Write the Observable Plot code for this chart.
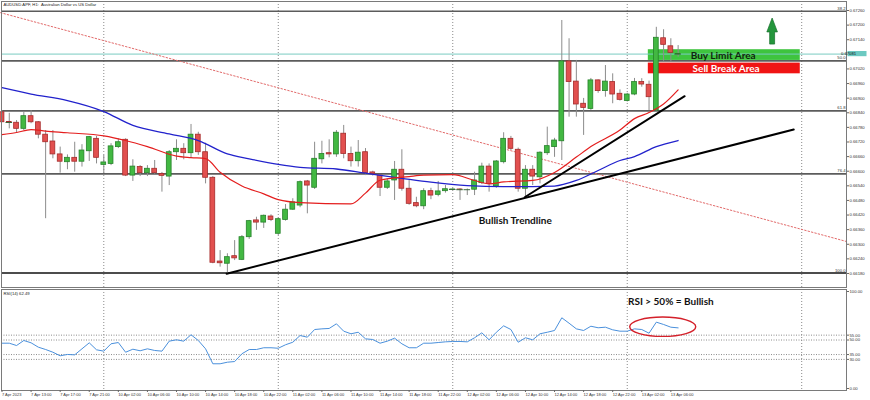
<!DOCTYPE html>
<html><head><meta charset="utf-8">
<script src="https://cdn.jsdelivr.net/npm/d3@7"></script>
<script src="https://cdn.jsdelivr.net/npm/@observablehq/plot@0.6"></script>
<style>
html,body{margin:0;padding:0;background:#fff;overflow:hidden;}
#chart svg{display:block;}
</style></head><body><div id="chart"></div>
<script>
// ---------- DATA ----------
const chartTitle = "AUDUSD.APF, H1:  Australian Dollar vs US Dollar";
const opens = [0.66842,0.66802,0.66799,0.66774,0.66826,0.66801,0.66750,0.66722,0.66669,0.66637,
0.66655,0.66639,0.66682,0.66733,0.66626,0.66630,0.66699,0.66729,0.66582,0.66617,
0.66592,0.66610,0.66589,0.66578,0.66678,0.66692,0.66674,0.66750,0.66678,0.66573,
0.66229,0.66220,0.66251,0.66236,0.66329,0.66398,0.66389,0.66414,0.66343,0.66400,
0.66442,0.66459,0.66558,0.66532,0.66649,0.66674,0.66669,0.66754,0.66671,0.66641,
0.66678,0.66595,0.66582,0.66532,0.66562,0.66606,0.66528,0.66469,0.66456,0.66518,
0.66503,0.66518,0.66524,0.66525,0.66524,0.66524,0.66551,0.66619,0.66537,0.66637,
0.66733,0.66688,0.66528,0.66606,0.66575,0.66674,0.66699,0.66723,0.67051,0.66968,
0.66877,0.66856,0.66973,0.66929,0.66966,0.66918,0.66888,0.66915,0.66966,0.66955,
0.66849,0.67146,0.67113,0.67080];
const closes = [0.66801,0.66800,0.66774,0.66826,0.66801,0.66750,0.66719,0.66669,0.66639,0.66655,
0.66639,0.66685,0.66740,0.66655,0.66636,0.66702,0.66719,0.66582,0.66619,0.66592,
0.66610,0.66592,0.66581,0.66678,0.66692,0.66674,0.66750,0.66678,0.66573,0.66224,
0.66222,0.66247,0.66242,0.66329,0.66395,0.66389,0.66417,0.66400,0.66403,0.66442,
0.66472,0.66555,0.66541,0.66651,0.66671,0.66669,0.66758,0.66671,0.66641,0.66676,
0.66592,0.66589,0.66532,0.66558,0.66606,0.66528,0.66466,0.66456,0.66518,0.66500,
0.66517,0.66526,0.66525,0.66524,0.66524,0.66562,0.66619,0.66548,0.66640,0.66733,
0.66692,0.66528,0.66606,0.66578,0.66676,0.66703,0.66726,0.67051,0.66966,0.66874,
0.66860,0.66973,0.66929,0.66968,0.66915,0.66893,0.66915,0.66966,0.66956,0.66904,
0.67148,0.67119,0.67086,0.67081];
const highs = [0.66849,0.66838,0.66808,0.66842,0.66849,0.66804,0.66767,0.66767,0.66699,0.66667,
0.66719,0.66709,0.66743,0.66743,0.66665,0.66713,0.66733,0.66733,0.66647,0.66623,
0.66623,0.66644,0.66595,0.66685,0.66729,0.66713,0.66792,0.66760,0.66715,0.66578,
0.66274,0.66261,0.66315,0.66336,0.66398,0.66411,0.66420,0.66421,0.66408,0.66463,
0.66487,0.66560,0.66562,0.66719,0.66723,0.66729,0.66767,0.66788,0.66699,0.66726,
0.66693,0.66600,0.66587,0.66569,0.66640,0.66688,0.66562,0.66493,0.66528,0.66530,
0.66558,0.66541,0.66528,0.66528,0.66527,0.66596,0.66633,0.66630,0.66644,0.66758,
0.66743,0.66695,0.66623,0.66623,0.66680,0.66781,0.66735,0.67219,0.67144,0.67055,
0.66899,0.66981,0.66975,0.67034,0.67000,0.66934,0.66920,0.66981,0.66980,0.66970,
0.67191,0.67181,0.67144,0.67116];
const lows = [0.66800,0.66774,0.66755,0.66767,0.66795,0.66733,0.66405,0.66651,0.66592,0.66606,
0.66596,0.66617,0.66640,0.66630,0.66592,0.66623,0.66693,0.66578,0.66558,0.66578,
0.66578,0.66587,0.66514,0.66541,0.66644,0.66647,0.66655,0.66665,0.66548,0.66220,
0.66206,0.66179,0.66233,0.66233,0.66320,0.66357,0.66365,0.66393,0.66336,0.66395,
0.66439,0.66450,0.66425,0.66525,0.66630,0.66655,0.66657,0.66651,0.66617,0.66617,
0.66582,0.66580,0.66496,0.66525,0.66480,0.66518,0.66460,0.66450,0.66442,0.66483,
0.66495,0.66510,0.66521,0.66480,0.66500,0.66500,0.66545,0.66514,0.66530,0.66630,
0.66685,0.66514,0.66493,0.66541,0.66548,0.66665,0.66657,0.66644,0.66822,0.66822,
0.66747,0.66850,0.66920,0.66904,0.66877,0.66888,0.66884,0.66910,0.66945,0.66849,
0.66842,0.67051,0.67048,0.67068];

// moving averages read at sampled bars
const redMaIdx = [0,2,4,6,9,14,17,20,24,26,28,30,33,36,38,41,48,50,52,56,58,62,65,67,69,73,76,79,81,85,87,89,91,93];
const redMaVal = [0.66750,0.66759,0.66771,0.66765,0.66758,0.66745,0.66726,0.66701,0.66662,0.66656,0.66652,0.66596,0.66539,0.66507,0.66483,0.66471,0.66466,0.66510,0.66563,0.66578,0.66584,0.66586,0.66562,0.66548,0.66556,0.66562,0.66595,0.66658,0.66701,0.66769,0.66816,0.66841,0.66876,0.66934];
const blueMaIdx = [0,4,9,14,18,23,27,31,34,38,41,46,50,55,59,64,69,73,76,79,82,85,87,90,93];
const blueMaVal = [0.66943,0.66917,0.66890,0.66845,0.66788,0.66753,0.66726,0.66671,0.66651,0.66628,0.66616,0.66609,0.66592,0.66571,0.66555,0.66541,0.66537,0.66537,0.66539,0.66562,0.66603,0.66644,0.66660,0.66701,0.66726];

const rsiValues = [46.7,46.7,44.3,49.5,47.1,42.6,40.2,37.4,33.7,35.1,
34.7,40.9,47.1,39.9,38.5,46.1,47.4,37.4,40.5,38.9,
40.9,39.2,38.5,48.8,50.2,48.8,55.4,49.5,40.9,25.5,
25.5,27.1,27.8,35.8,40.2,40.2,42.0,42.0,41.5,45.1,
47.7,54.6,52.9,60.8,61.5,61.9,66.7,59.1,56.4,58.0,
51.2,50.5,46.7,48.8,51.9,46.1,42.0,42.0,46.7,46.7,
47.4,48.1,48.5,48.5,48.1,52.3,57.4,50.2,58.0,64.6,
60.8,47.7,52.3,50.2,56.4,58.0,59.8,72.9,67.3,61.5,
59.8,64.2,62.6,63.2,60.5,59.1,59.1,61.5,60.8,57.0,
68.4,66.0,63.2,62.5];

const fibPrices = [0.67257,0.67053,0.66848,0.66589,0.66182];
const fibLabels = ["38.2","50.0","61.8","76.4","100.0"];
const currentPrice = 0.67081;
const priceTicks = [0.67260,0.67200,0.67140,0.67020,0.66960,0.66900,0.66840,0.66780,0.66720,0.66660,0.66600,0.66540,0.66480,0.66420,0.66360,0.66300,0.66240,0.66180];
const daySeparators = [14,38,62,86,110];
const xTicks = [0,4,8,12,16,20,24,28,32,36,40,44,48,52,56,60,64,68,72,76,80,84,88,92];
const xLabels = ["7 Apr 2023","7 Apr 13:00","7 Apr 17:00","7 Apr 21:00","10 Apr 02:00","10 Apr 06:00","10 Apr 10:00","10 Apr 14:00","10 Apr 18:00","10 Apr 22:00","11 Apr 02:00","11 Apr 06:00","11 Apr 10:00","11 Apr 14:00","11 Apr 18:00","11 Apr 22:00","12 Apr 02:00","12 Apr 06:00","12 Apr 10:00","12 Apr 14:00","12 Apr 18:00","12 Apr 22:00","13 Apr 02:00","13 Apr 06:00"];
const rsiTicks = [100,55,50,35,30,0];
const rsiLevels = [55,50,35,30];
const rsiTitle = "RSI(14) 62.49";

// drawn annotations (data coordinates: bar index, price)
const bullTrend = [{i:30.9, p:0.66179},{i:108.9, p:0.66771}];
const steepTrend = [{i:71.9, p:0.66493},{i:93.9, p:0.66908}];
const downChannel = [{i:-0.2, p:0.67251},{i:116.2, p:0.66311}];
const zones = [
  {name:"Buy Limit Area", i1:88.9, i2:109.8, p1:0.67055, p2:0.67099, fill:"#3ec43e", text:"#10240f", ti:99.2, tp:0.67075},
  {name:"Sell Break Area", i1:88.9, i2:109.8, p1:0.67000, p2:0.67044, fill:"#f01414", text:"#ffffff", ti:99.6, tp:0.67020}
];
const trendNote = {label:"Bullish Trendline", i:70.6, p:0.66398};
const upArrow = {i:106.0, head:0.73, shaft:0.34, tip:0.67227, base:0.67170, bottom:0.67120};
const rsiNote = {label:"RSI > 50% = Bullish", i:92.0, v:89.7};
const rsiRing = {i:90.95, v:63.2, di:4.54, dv:10};

// ---------- CHART ----------
const xDomain = [-0.07, 116.16];
const FONT = "'Liberation Sans', Arial, sans-serif";
const candles = opens.map((o, i) => ({i, o, h: highs[i], l: lows[i], c: closes[i]}));
const ups = candles.filter(d => d.c >= d.o);
const downs = candles.filter(d => d.c < d.o);
const dojis = candles.filter(d => Math.abs(d.c - d.o) < 0.00003);
const redMa = redMaIdx.map((i, k) => ({i, p: redMaVal[k]}));
const blueMa = blueMaIdx.map((i, k) => ({i, p: blueMaVal[k]}));

function arrowMark(index, scales) {
  const {x, y} = scales; const a = upArrow;
  const pts = [[a.i, a.tip],[a.i + a.head, a.base],[a.i + a.shaft, a.base],[a.i + a.shaft, a.bottom],
    [a.i - a.shaft, a.bottom],[a.i - a.shaft, a.base],[a.i - a.head, a.base]]
    .map(([u, v]) => `${x(u)},${y(v)}`).join(" ");
  return d3.create("svg:polygon").attr("points", pts).attr("fill", "#24963c")
    .attr("stroke", "#17702b").attr("stroke-width", 0.7).node();
}
function priceTag(index, scales, values, dims) {
  const yy = scales.y(currentPrice);
  const x0 = dims.width - dims.marginRight;
  const g = d3.create("svg:g");
  g.append("rect").attr("x", x0 + 1.5).attr("y", yy - 2.6).attr("width", 19).attr("height", 5.2).attr("fill", "#6cc9c1");
  g.append("text").attr("x", x0 + 2.5).attr("y", yy).attr("dy", "0.35em").attr("font-size", 4.2)
    .attr("font-family", FONT).attr("fill", "#111").text(d3.format(".5f")(currentPrice));
  return g.node();
}
function ringMark(index, scales) {
  const {x, y} = scales; const r = rsiRing;
  const cx = x(r.i), cy = y(r.v);
  return d3.create("svg:ellipse").attr("cx", cx).attr("cy", cy)
    .attr("rx", Math.abs(x(r.i + r.di) - cx)).attr("ry", Math.abs(y(r.v + r.dv) - cy))
    .attr("fill", "none").attr("stroke", "#d4202a").attr("stroke-width", 1.4).node();
}

const pricePlot = Plot.plot({
  width: 870, height: 288,
  marginLeft: 1, marginRight: 24, marginTop: 1, marginBottom: 1,
  x: {domain: xDomain, axis: null},
  y: {domain: [0.661224, 0.67297], axis: null},
  style: {fontFamily: FONT, background: "#fff"},
  marks: [
    Plot.ruleX(daySeparators, {x: d => d, stroke: "#8a8a8a", strokeDasharray: "1,2"}),
    Plot.rect(zones, {x1: "i1", x2: "i2", y1: "p1", y2: "p2", fill: d => d.fill}),
    Plot.ruleY(fibPrices.slice(0, 4), {y: d => d, stroke: "#5c5c5c", strokeWidth: 1.6}),
    Plot.ruleY(fibPrices.slice(4), {y: d => d, stroke: "#111", strokeWidth: 1.6}),
    Plot.text(fibPrices, {frameAnchor: "right", y: d => d, text: (d, k) => fibLabels[k], textAnchor: "end", dx: -1, dy: -2.8, fontSize: 4.2, fill: "#333"}),
    Plot.ruleY([currentPrice], {y: d => d, stroke: "#79cbc2", strokeWidth: 1}),
    Plot.line(downChannel, {x: "i", y: "p", stroke: "#e26a6a", strokeWidth: 1, strokeDasharray: "1.5,2"}),
    Plot.ruleX(candles, {x: "i", y1: "l", y2: "h", stroke: "#8c8c8c", strokeWidth: 1}),
    Plot.rect(ups, {x1: d => d.i - 0.33, x2: d => d.i + 0.33, y1: "o", y2: "c", fill: "#42b842", stroke: "#26822a", strokeWidth: 0.8}),
    Plot.rect(downs, {x1: d => d.i - 0.33, x2: d => d.i + 0.33, y1: "o", y2: "c", fill: "#e2504f", stroke: "#a52b2b", strokeWidth: 0.8}),
    Plot.ruleY(dojis, {y: "c", x1: d => d.i - 0.45, x2: d => d.i + 0.45, stroke: "#3a6a3a", strokeWidth: 1}),
    Plot.line(blueMa, {x: "i", y: "p", stroke: "#2222cc", strokeWidth: 1.3, curve: "monotone-x"}),
    Plot.line(redMa, {x: "i", y: "p", stroke: "#e41e1e", strokeWidth: 1.2, curve: "monotone-x"}),
    Plot.line(bullTrend, {x: "i", y: "p", stroke: "#000", strokeWidth: 2}),
    Plot.line(steepTrend, {x: "i", y: "p", stroke: "#000", strokeWidth: 2}),
    Plot.text(zones, {x: "ti", y: "tp", text: "name", fill: d => d.text, fontFamily: "Lato", fontWeight: "bold", fontSize: 10}),
    Plot.text([trendNote], {x: "i", y: "p", text: "label", fill: "#111", fontFamily: "Lato", fontWeight: "bold", fontSize: 10}),
    arrowMark,
    Plot.text([chartTitle], {frameAnchor: "top-left", dx: 2, dy: 3.5, lineAnchor: "middle", textAnchor: "start", fontSize: 4.2, fill: "#222"}),
    Plot.frame({stroke: "#7a7a7a"}),
    Plot.axisY({anchor: "right", ticks: priceTicks, tickFormat: d3.format(".5f"), tickSize: 2, tickPadding: 1, fontSize: 4.2, fill: "#333", stroke: "#666", label: null}),
    priceTag
  ]
});

const rsiPlot = Plot.plot({
  width: 870, height: 112,
  marginLeft: 1, marginRight: 24, marginTop: 1, marginBottom: 10,
  x: {domain: xDomain, axis: null},
  y: {domain: [-2.06, 102.06], axis: null},
  style: {fontFamily: FONT, background: "#fff"},
  marks: [
    Plot.ruleX(daySeparators, {x: d => d, stroke: "#8a8a8a", strokeDasharray: "1,2"}),
    Plot.ruleY(rsiLevels, {y: d => d, stroke: "#8c8c8c", strokeDasharray: "1,1.5"}),
    Plot.line(rsiValues, {x: (d, i) => i, y: d => d, stroke: "#4a90dc", strokeWidth: 1}),
    Plot.text([rsiTitle], {frameAnchor: "top-left", dx: 2, dy: 4, lineAnchor: "middle", textAnchor: "start", fontSize: 4.2, fill: "#222"}),
    Plot.text([rsiNote], {x: "i", y: "v", text: "label", fill: "#111", fontFamily: "Lato", fontWeight: "bold", fontSize: 10}),
    ringMark,
    Plot.frame({stroke: "#7a7a7a"}),
    Plot.axisY({anchor: "right", ticks: rsiTicks, tickFormat: d3.format(".2f"), tickSize: 2, tickPadding: 1, fontSize: 4.2, fill: "#333", stroke: "#666", label: null}),
    Plot.axisX({anchor: "bottom", ticks: xTicks, tickFormat: d => xLabels[xTicks.indexOf(d)], tickSize: 2, tickPadding: 1, fontSize: 4, textAnchor: "start", fill: "#333", stroke: "#666", label: null})
  ]
});

const host = document.getElementById("chart");
host.append(pricePlot, rsiPlot);
</script>
</body></html>
